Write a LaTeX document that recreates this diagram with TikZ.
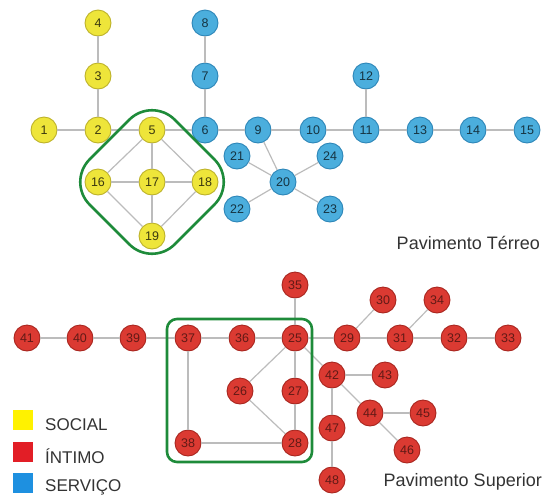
\documentclass[tikz,border=0pt]{standalone}
\usepackage{fontspec}
\setmainfont{Liberation Sans}
\definecolor{socfill}{HTML}{EEE53A}
\definecolor{socline}{HTML}{BDB22A}
\definecolor{intfill}{HTML}{DB3A32}
\definecolor{intline}{HTML}{A8261F}
\definecolor{serfill}{HTML}{4BAEDD}
\definecolor{serline}{HTML}{2D86B8}
\definecolor{linkgray}{HTML}{BCBCBC}
\definecolor{zonegreen}{HTML}{1E8B3A}
\definecolor{keysoc}{HTML}{FFF200}
\definecolor{keyint}{HTML}{E21E26}
\definecolor{keyser}{HTML}{1E90E0}
\begin{document}
\begin{tikzpicture}[x=1pt,y=-1pt,
  room/.style={circle, minimum size=26pt, inner sep=0pt, line width=0.9pt,
    font=\fontsize{12.5}{13}\selectfont},
  social/.style={room, fill=socfill, draw=socline, text=socfill!25!black},
  intimo/.style={room, fill=intfill, draw=intline, text=intfill!45!black},
  servico/.style={room, fill=serfill, draw=serline, text=serfill!30!black},
  link/.style={draw=linkgray, line width=1.2pt},
  zone/.style={draw=zonegreen, line width=2.6pt},
  keybox/.style={minimum width=20pt, minimum height=20pt, inner sep=0pt},
  keytext/.style={anchor=west, inner sep=0pt, font=\fontsize{17}{19}\selectfont, text=black!80},
  floorlabel/.style={anchor=east, inner sep=0pt, font=\fontsize{18}{20}\selectfont, text=black!80}]
\useasboundingbox (0,0) rectangle (543,499);

% ---------- ground floor ----------
\node[social] (n1) at (44,130) {1};
\node[social] (n2) at (98,130) {2};
\node[social] (n3) at (98,76) {3};
\node[social] (n4) at (98,23) {4};
\node[social] (n5) at (152,130) {5};
\node[social] (n16) at (98,182) {16};
\node[social] (n17) at (152,182) {17};
\node[social] (n18) at (205,182) {18};
\node[social] (n19) at (152,236) {19};
\node[servico] (n6) at (205,130) {6};
\node[servico] (n7) at (205,76) {7};
\node[servico] (n8) at (205,23) {8};
\node[servico] (n9) at (258,130) {9};
\node[servico] (n10) at (313,130) {10};
\node[servico] (n11) at (366,130) {11};
\node[servico] (n12) at (366,76) {12};
\node[servico] (n13) at (420,130) {13};
\node[servico] (n14) at (473,130) {14};
\node[servico] (n15) at (527,130) {15};
\node[servico] (n20) at (283,182) {20};
\node[servico] (n21) at (237,156) {21};
\node[servico] (n22) at (237,209) {22};
\node[servico] (n23) at (330,209) {23};
\node[servico] (n24) at (330,156) {24};

\foreach \a/\b in {n1/n2, n2/n5, n5/n6, n6/n9, n9/n10, n10/n11, n11/n13, n13/n14,
    n14/n15, n2/n3, n3/n4, n6/n7, n7/n8, n11/n12, n5/n16, n5/n17, n5/n18,
    n16/n17, n17/n18, n16/n19, n17/n19, n18/n19, n9/n20, n20/n21, n20/n22,
    n20/n23, n20/n24}
  \draw[link] (\a) -- (\b);

\draw[zone, rounded corners=32pt] (152,97) -- (237,182) -- (152,267) -- (67,182) -- cycle;

\node[floorlabel] (terreo) at (540,243) {Pavimento Térreo};

% ---------- upper floor ----------
\node[intimo] (n25) at (295,338) {25};
\node[intimo] (n26) at (240,391) {26};
\node[intimo] (n27) at (295,391) {27};
\node[intimo] (n28) at (295,443) {28};
\node[intimo] (n29) at (347,338) {29};
\node[intimo] (n30) at (383,300) {30};
\node[intimo] (n31) at (400,338) {31};
\node[intimo] (n32) at (454,338) {32};
\node[intimo] (n33) at (508,338) {33};
\node[intimo] (n34) at (437,300) {34};
\node[intimo] (n35) at (295,285) {35};
\node[intimo] (n36) at (242,338) {36};
\node[intimo] (n37) at (188,338) {37};
\node[intimo] (n38) at (188,443) {38};
\node[intimo] (n39) at (133,338) {39};
\node[intimo] (n40) at (80,338) {40};
\node[intimo] (n41) at (27,338) {41};
\node[intimo] (n42) at (332,375) {42};
\node[intimo] (n43) at (385,375) {43};
\node[intimo] (n44) at (370,413) {44};
\node[intimo] (n45) at (423,413) {45};
\node[intimo] (n46) at (407,450) {46};
\node[intimo] (n47) at (332,428) {47};
\node[intimo] (n48) at (332,480) {48};

\foreach \a/\b in {n41/n40, n40/n39, n39/n37, n37/n36, n36/n25, n25/n29, n29/n31,
    n31/n32, n32/n33, n25/n35, n29/n30, n31/n34, n37/n38, n38/n28, n25/n27,
    n27/n28, n25/n26, n26/n28, n25/n42, n42/n43, n42/n44, n44/n45, n44/n46,
    n42/n47, n47/n48}
  \draw[link] (\a) -- (\b);

\draw[zone, rounded corners=10pt] (167,319) rectangle (312,462);

\node[floorlabel] (superior) at (542,482) {Pavimento Superior};

% ---------- key ----------
\node[keybox, fill=keysoc] (ksoc) at (23,420) {};
\node[keybox, fill=keyint] (kint) at (23,452) {};
\node[keybox, fill=keyser] (kser) at (23,483) {};
\node[keytext] (tsoc) at (45,425) {SOCIAL};
\node[keytext] (tint) at (45,456) {ÍNTIMO};
\node[keytext] (tser) at (45,487) {SERVIÇO};
\end{tikzpicture}
\end{document}
